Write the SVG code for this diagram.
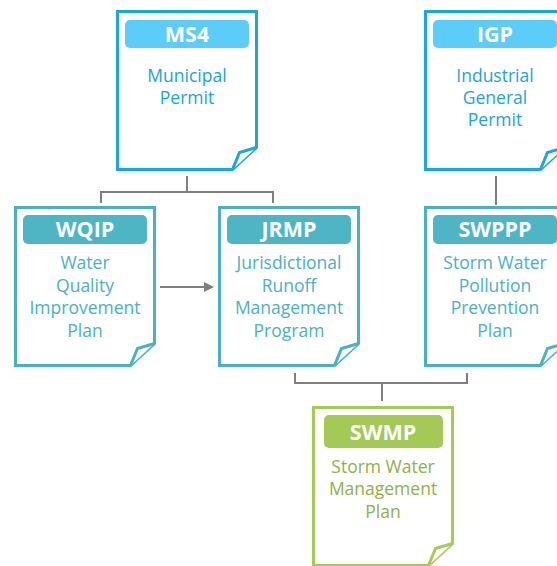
<svg xmlns="http://www.w3.org/2000/svg" width="557" height="566" viewBox="0 0 557 566">
<style>
.doc{fill:#fff;stroke-width:3;stroke-linejoin:miter}
.blue{stroke:#1BA6E0}
.teal{stroke:#4AB1C1}
.green{stroke:#A5CB55}
.pb{fill:#5BCDF8}
.pt{fill:#4DB5C4}
.pg{fill:#A4C955}
.hd{font-family:"Open Sans",sans-serif;font-weight:bold;font-size:21.5px;fill:#fff;text-anchor:middle}
.tx{font-family:"Open Sans",sans-serif;font-size:17.5px;text-anchor:middle}
.tb{fill:#1AA3DC}
.tt{fill:#4AB1C1}
.tg{fill:#8DB146}
.con{fill:none;stroke:#7F7F7F;stroke-width:2}
</style>
<defs>
<path id="doc" d="M0,0 H139 V136 L115,158 H0 Z"/>
<path id="fold" d="M139,136 L122,141 L115,158"/>
<marker id="arr" markerWidth="10" markerHeight="10" refX="8" refY="5" orient="auto" markerUnits="userSpaceOnUse"><path d="M0,0 L10,5 L0,10 Z" fill="#7F7F7F"/></marker>
</defs>
<g id="connectors">
<path class="con" d="M187,176 V192 M101,203 V192 H273 V203"/>
<path class="con" d="M496,176 V205"/>
<path class="con" d="M295,373 V383 H467 V373 M382,383 V401"/>
<path class="con" d="M160,287 H212" marker-end="url(#arr)"/>
</g>
<g id="ms4" transform="translate(117.5,11.5)">
<use href="#doc" class="doc blue"/><use href="#fold" class="doc blue"/>
<rect x="7.5" y="8.5" width="124" height="28" rx="5" class="pb"/>
<text x="69.5" y="30.5" class="hd">MS4</text>
<text x="69.5" y="70" class="tx tb">Municipal</text>
<text x="69.5" y="92" class="tx tb">Permit</text>
</g>
<g id="igp" transform="translate(425.5,11.5)">
<use href="#doc" class="doc blue"/><use href="#fold" class="doc blue"/>
<rect x="7.5" y="8.5" width="124" height="28" rx="5" class="pb"/>
<text x="69.5" y="30.5" class="hd">IGP</text>
<text x="69.5" y="70" class="tx tb">Industrial</text>
<text x="69.5" y="92" class="tx tb">General</text>
<text x="69.5" y="114" class="tx tb">Permit</text>
</g>
<g id="wqip" transform="translate(15.5,207.5)">
<use href="#doc" class="doc teal"/><use href="#fold" class="doc teal"/>
<rect x="7.5" y="7.5" width="124" height="29" rx="5" class="pt"/>
<text x="69.5" y="29.5" class="hd">WQIP</text>
<text x="69.5" y="61.5" class="tx tt">Water</text>
<text x="69.5" y="84" class="tx tt">Quality</text>
<text x="69.5" y="106.5" class="tx tt">Improvement</text>
<text x="69.5" y="129" class="tx tt">Plan</text>
</g>
<g id="jrmp" transform="translate(219.5,207.5)">
<use href="#doc" class="doc teal"/><use href="#fold" class="doc teal"/>
<rect x="7.5" y="7.5" width="124" height="29" rx="5" class="pt"/>
<text x="69.5" y="29.5" class="hd">JRMP</text>
<text x="69.5" y="61.5" class="tx tt">Jurisdictional</text>
<text x="69.5" y="84" class="tx tt">Runoff</text>
<text x="69.5" y="106.5" class="tx tt">Management</text>
<text x="69.5" y="129" class="tx tt">Program</text>
</g>
<g id="swppp" transform="translate(425.5,207.5)">
<use href="#doc" class="doc teal"/><use href="#fold" class="doc teal"/>
<rect x="7.5" y="7.5" width="124" height="29" rx="5" class="pt"/>
<text x="69.5" y="29.5" class="hd">SWPPP</text>
<text x="69.5" y="61.5" class="tx tt">Storm Water</text>
<text x="69.5" y="84" class="tx tt">Pollution</text>
<text x="69.5" y="106.5" class="tx tt">Prevention</text>
<text x="69.5" y="129" class="tx tt">Plan</text>
</g>
<g id="swmp" transform="translate(313.5,407.5)">
<use href="#doc" class="doc green"/><use href="#fold" class="doc green"/>
<rect x="10.5" y="7.5" width="119" height="33" rx="5" class="pg"/>
<text x="69.5" y="32.5" class="hd">SWMP</text>
<text x="69.5" y="65" class="tx tg">Storm Water</text>
<text x="69.5" y="87.5" class="tx tg">Management</text>
<text x="69.5" y="110" class="tx tg">Plan</text>
</g>
</svg>
